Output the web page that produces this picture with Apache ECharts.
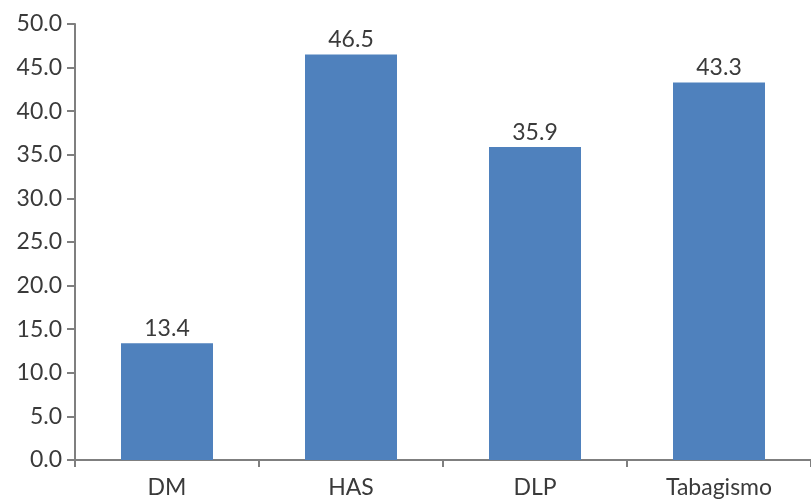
<!DOCTYPE html>
<html>
<head>
<meta charset="utf-8">
<script src="https://cdn.jsdelivr.net/npm/echarts@6/dist/echarts.min.js"></script>
<style>
  html, body { margin: 0; padding: 0; background: #fff; }
  #chart { width: 811px; height: 502px; }
</style>
</head>
<body>
<div id="chart"></div>
<script>
// Prevalence (%) by risk factor
const categories = ['DM', 'HAS', 'DLP', 'Tabagismo'];
const values = [13.4, 46.5, 35.9, 43.3];

const textColor = '#3a3a3a';
const axisColor = '#7f7f7f';
const fontFamily = 'Lato, "Open Sans", sans-serif';
const fontSize = 23;

const chart = echarts.init(document.getElementById('chart'));
chart.setOption({
  animation: false,
  grid: { left: 75, right: -6, top: 24, bottom: 42, containLabel: false },
  xAxis: {
    type: 'category',
    data: categories,
    axisLine: { lineStyle: { color: axisColor, width: 2 } },
    axisTick: { show: true, alignWithLabel: false, length: 7, inside: false, lineStyle: { color: axisColor, width: 2 } },
    axisLabel: { color: textColor, fontSize: fontSize, fontFamily: fontFamily, margin: 16 }
  },
  yAxis: {
    type: 'value',
    min: 0,
    max: 50,
    interval: 5,
    axisLine: { show: true, lineStyle: { color: axisColor, width: 2 } },
    axisTick: { show: true, length: 8, lineStyle: { color: axisColor, width: 2 } },
    splitLine: { show: false },
    axisLabel: {
      color: textColor, fontSize: fontSize, fontFamily: fontFamily, margin: 13,
      formatter: v => v.toFixed(1)
    }
  },
  series: [{
    type: 'bar',
    data: values,
    barWidth: '50%',
    itemStyle: { color: '#4f81bd' },
    label: {
      show: true,
      position: 'top',
      distance: 3,
      color: textColor,
      fontSize: fontSize,
      fontFamily: fontFamily,
      formatter: p => p.value.toFixed(1)
    }
  }]
});
</script>
</body>
</html>
